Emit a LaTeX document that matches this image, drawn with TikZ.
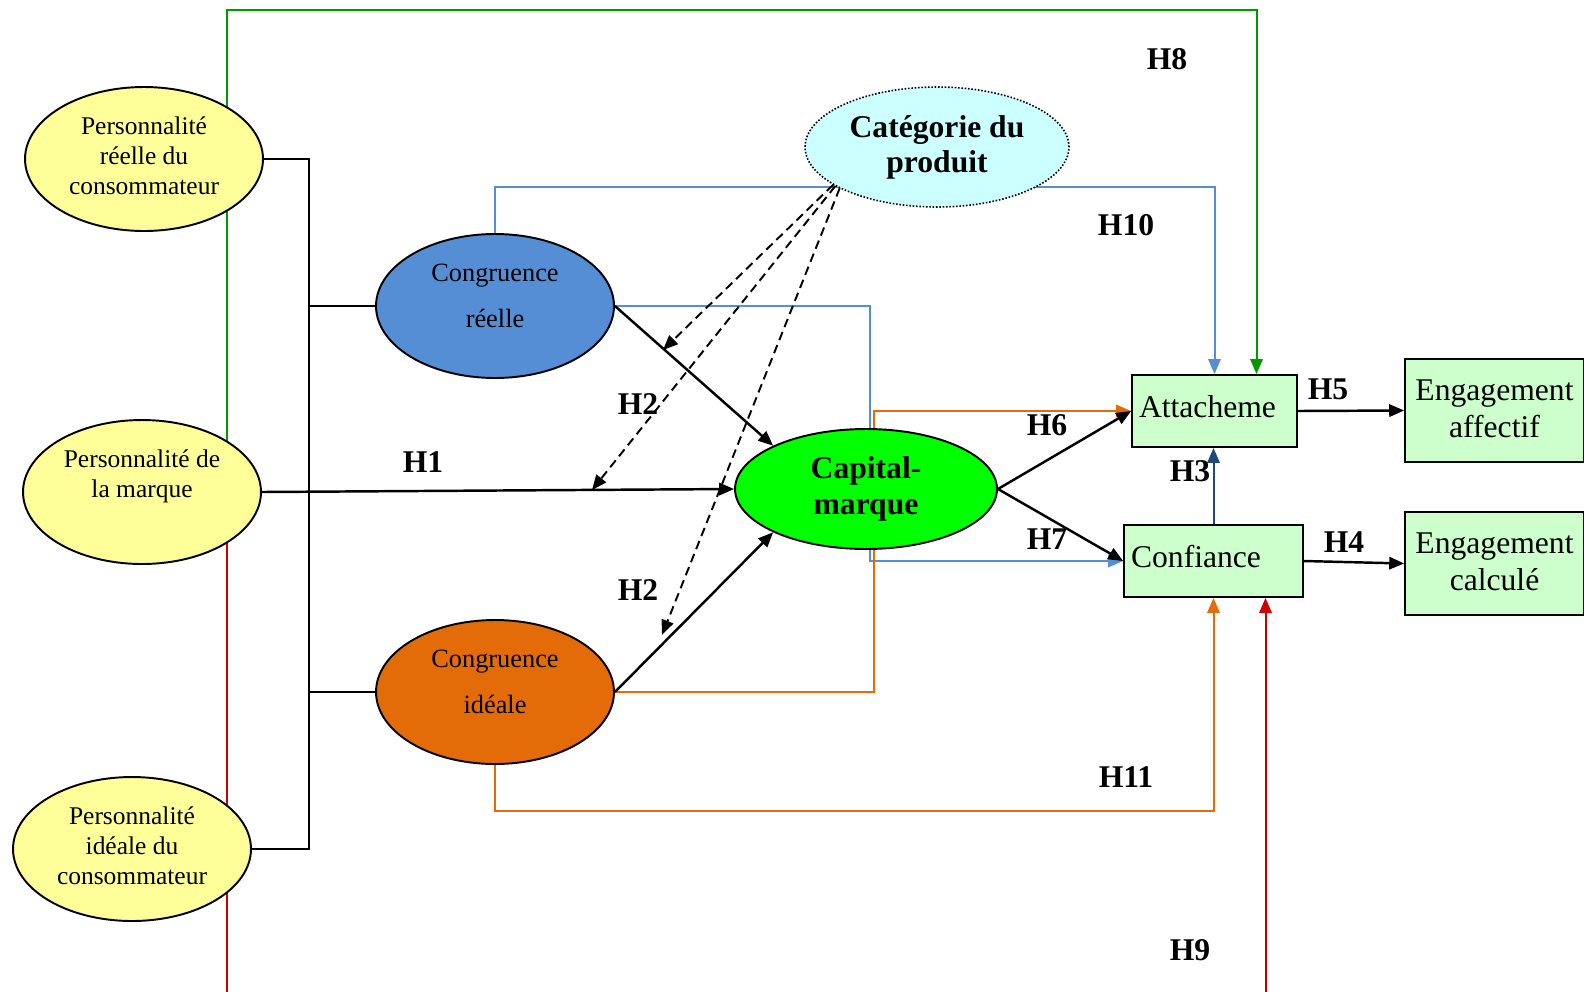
\documentclass[tikz,border=0pt]{standalone}
\usepackage{fontspec}
\setmainfont{Liberation Serif}
\usetikzlibrary{shapes.geometric,arrows.meta,calc,backgrounds}

\definecolor{jaune}{HTML}{FFFF99}
\definecolor{bleucr}{HTML}{558ED5}
\definecolor{orangeci}{HTML}{E36C09}
\definecolor{vertcap}{HTML}{00FF00}
\definecolor{cyancat}{HTML}{CCFFFF}
\definecolor{vertboite}{HTML}{CCFFCC}
\definecolor{vertligne}{HTML}{009900}
\definecolor{rougeligne}{HTML}{CC0000}
\definecolor{bleufonce}{HTML}{1F497D}

\tikzset{
  perso/.style={ellipse, draw, line width=1.1pt, fill=jaune, minimum width=4.76cm,
    minimum height=2.88cm, inner sep=0pt, text depth=3.5pt, align=center,
    font=\fontsize{14.5}{17}\selectfont},
  congr/.style={ellipse, draw, line width=1.1pt, minimum width=4.76cm, minimum height=2.88cm,
    inner sep=0pt, text depth=12pt, align=center, font=\fontsize{15}{26.3}\selectfont},
  boite/.style={draw, line width=1pt, fill=vertboite, minimum height=1.44cm,
    inner xsep=0.14cm, inner ysep=0pt, text depth=5.6pt, align=left,
    font=\fontsize{18}{21}\selectfont},
  engag/.style={draw, line width=1pt, fill=vertboite, minimum width=3.58cm,
    minimum height=2.06cm, inner sep=0pt, text depth=2.5pt, align=center,
    font=\fontsize{18}{21}\selectfont},
  hyp/.style={font=\bfseries\fontsize{18}{21}\selectfont},
  pointe/.style={-{Triangle[length=8.5pt,width=7pt]}},
  fleche/.style={pointe, line width=1.4pt},
  trait/.style={line width=0.85pt},
  couleur/.style={pointe, line width=1.15pt, draw=#1, color=#1}
}

\begin{document}
\begin{tikzpicture}[x=0.02cm, y=-0.02cm]
    \useasboundingbox (0,0) rectangle (1584,991);

    % Variables de personnalite
    \node[perso] (p1) at (144,159) {Personnalité\\réelle du\\consommateur};
    \node[perso, text depth=21pt] (pm) at (142,492) {Personnalité de\\la marque};
    \node[perso] (p3) at (132,849) {Personnalité\\idéale du\\consommateur};

    % Congruences
    \node[congr, fill=bleucr] (cr) at (495,306) {Congruence\\réelle};
    \node[congr, fill=orangeci] (ci) at (495,692) {Congruence\\idéale};

    \node[ellipse, draw, line width=1.1pt, fill=vertcap, minimum width=5.24cm, minimum height=2.4cm,
      inner sep=0pt, align=center, font=\bfseries\fontsize{18}{20.5}\selectfont] (cap) at (866,489) {Capital-\\marque};
    \node[ellipse, draw, densely dotted, line width=0.9pt, fill=cyancat, minimum width=5.28cm, minimum height=2.4cm,
      inner sep=0pt, align=center, font=\bfseries\fontsize{18}{20}\selectfont] (cat) at (937,147) {Catégorie du\\produit};

    % Relations et engagement
    \node[boite, text width=3.02cm] (att) at (1214.5,411) {Attacheme};
    \node[boite, text width=3.30cm] (conf) at (1213.5,561) {Confiance};
    \node[engag] (ea) at (1494.5,410.5) {Engagement\\affectif};
    \node[engag] (ec) at (1494.5,563.5) {Engagement\\calculé};

    \coordinate (m1) at (663,350);
    \coordinate (m2) at (592,490);
    \coordinate (m3) at (662,635);

    \begin{scope}[on background layer]
    \draw[couleur=vertligne] (227,492) -- (227,10) -| ($(att.north)+(42,0)$);
    \draw[couleur=rougeligne] (227,492) -- (227,1005) -| ($(conf.south)+(52,0)$);

    \draw[trait] (p1.east) -- (309,159) -- (309,849) -- (p3.east);
    \draw[trait] (309,306) -- (cr.west);
    \draw[trait] (309,692) -- (ci.west);

    \draw[couleur=bleucr] (cr.north) -- (495,187) -| (att.north);
    \draw[couleur=bleucr] (cr.east) -| (870,561) -- (conf.west);
    \draw[couleur=orangeci] (ci.east) -| (874,411) -- (att.west);
    \draw[couleur=orangeci] (ci.south) -- (495,811) -| (conf.south);
    \draw[couleur=bleufonce] (conf.north) -- (conf.north |- att.south);

    \draw[fleche] (pm.east) -- (cap.west);
    \draw[fleche] (cr.east) -- (cap.155);
    \draw[fleche] (ci.east) -- (cap.205);
    \draw[fleche] (cap.east) -- (att.west);
    \draw[fleche] (cap.east) -- (conf.west);
    \draw[fleche] (att.east) -- (ea.west);
    \draw[fleche] (conf.east) -- (ec.west);

    \draw[pointe, dash pattern=on 5pt off 3pt, line width=1.1pt] (cat.200) -- (m1);
    \draw[pointe, dash pattern=on 5pt off 3pt, line width=1.1pt] (cat.201) -- (m2);
    \draw[pointe, dash pattern=on 5pt off 3pt, line width=1.1pt] (cat.203) -- (m3);
    \end{scope}

    % Hypotheses
    \node[hyp] (h1) at (423,462) {H1};
    \node[hyp] (h2a) at (638,404) {H2};
    \node[hyp] (h2b) at (638,590) {H2};
    \node[hyp] (h3) at (1190,471) {H3};
    \node[hyp] (h4) at (1344,542) {H4};
    \node[hyp] (h5) at (1328,389) {H5};
    \node[hyp] (h6) at (1047,425) {H6};
    \node[hyp] (h7) at (1047,539) {H7};
    \node[hyp] (h8) at (1167,59) {H8};
    \node[hyp] (h9) at (1190,950) {H9};
    \node[hyp] (h10) at (1126,225) {H10};
    \node[hyp] (h11) at (1126,777) {H11};
  \end{tikzpicture}
\end{document}
